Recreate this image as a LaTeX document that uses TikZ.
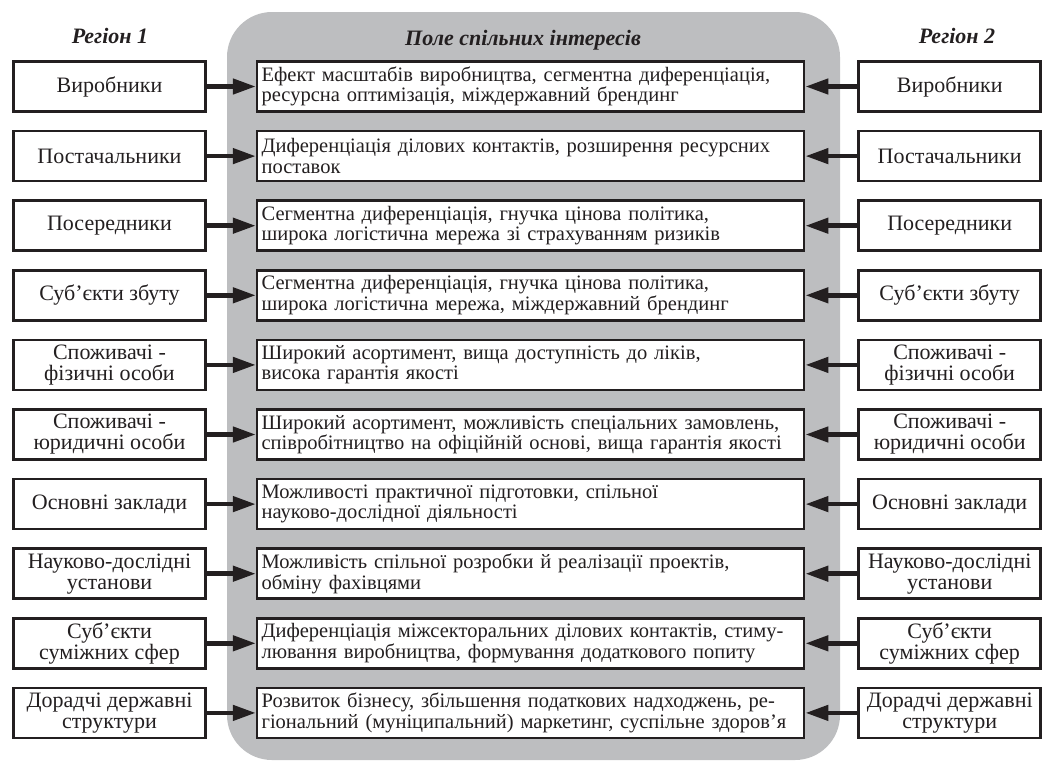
\documentclass[tikz,border=0pt]{standalone}
\usepackage{fontspec}
\setmainfont{Liberation Serif}
\usepackage{tikz}
\usetikzlibrary{arrows.meta, positioning}
\definecolor{panelgray}{RGB}{189, 190, 192}
\definecolor{inkdark}{RGB}{35, 31, 32}

\begin{document}
\begin{tikzpicture}[
        x=1pt, y=1pt,
        node distance=17pt and 49pt,
        sidebox/.style={rectangle, draw=inkdark, line width=2.6pt, fill=white, text=inkdark, font=\fontsize{22}{21}\selectfont, minimum width=192pt, minimum height=50pt, inner sep=2pt, align=center},
        midbox/.style={rectangle, draw=inkdark, line width=2.6pt, fill=white, text=inkdark, font=\fontsize{20.5}{20.5}\selectfont, minimum width=547pt, minimum height=50pt, inner xsep=4pt, inner ysep=2pt, text width=538pt, align=left},
        heading/.style={font=\fontsize{22}{22}\selectfont\bfseries\itshape, text=inkdark, anchor=base},
        arrow/.style={-{Triangle[length=23pt, width=15pt]}, line width=4.5pt, inkdark}
    ]
        \useasboundingbox (0,0) rectangle (1044,-764);
        % Shared field
        \fill[panelgray, rounded corners=45pt] (227,-12) rectangle (840,-760);

        % Headings
        \node[heading] (h1) at (110,-43) {Регіон 1};
        \node[heading] (h2) at (523,-45) {Поле спільних інтересів};
        \node[heading] (h3) at (957,-43) {Регіон 2};

        % Region 1
        \node[sidebox] (l1) at (109.5,-86.5) {Виробники};
        \node[sidebox, below=of l1] (l2) {Постачальники};
        \node[sidebox, below=of l2] (l3) {Посередники};
        \node[sidebox, below=of l3] (l4) {Суб’єкти збуту};
        \node[sidebox, below=of l4] (l5) {Споживачі -\\фізичні особи};
        \node[sidebox, below=of l5] (l6) {Споживачі -\\юридичні особи};
        \node[sidebox, below=of l6] (l7) {Основні заклади};
        \node[sidebox, below=of l7] (l8) {Науково-дослідні\\установи};
        \node[sidebox, below=of l8] (l9) {Суб’єкти\\суміжних сфер};
        \node[sidebox, below=of l9] (l10) {Дорадчі державні\\структури};

        % Shared interests
        \node[midbox, right=of l1] (m1) {Ефект масштабів виробництва, сегментна диференціація,\\ресурсна оптимізація, міждержавний брендинг};
        \node[midbox, right=of l2] (m2) {Диференціація ділових контактів, розширення ресурсних\\поставок};
        \node[midbox, right=of l3] (m3) {Сегментна диференціація, гнучка цінова політика,\\широка логістична мережа зі страхуванням ризиків};
        \node[midbox, right=of l4] (m4) {Сегментна диференціація, гнучка цінова політика,\\широка логістична мережа, міждержавний брендинг};
        \node[midbox, right=of l5] (m5) {Широкий асортимент, вища доступність до ліків,\\висока гарантія якості};
        \node[midbox, right=of l6] (m6) {Широкий асортимент, можливість спеціальних замовлень,\\співробітництво на офіційній основі, вища гарантія якості};
        \node[midbox, right=of l7] (m7) {Можливості практичної підготовки, спільної\\науково-дослідної діяльності};
        \node[midbox, right=of l8] (m8) {Можливість спільної розробки й реалізації проектів,\\обміну фахівцями};
        \node[midbox, right=of l9] (m9) {Диференціація міжсекторальних ділових контактів, стиму-\\лювання виробництва, формування додаткового попиту};
        \node[midbox, right=of l10] (m10) {Розвиток бізнесу, збільшення податкових надходжень, ре-\\гіональний (муніципальний) маркетинг, суспільне здоров’я};

        % Region 2
        \node[sidebox, minimum width=182pt, right=52pt of m1] (r1) {Виробники};
        \node[sidebox, minimum width=182pt, right=52pt of m2] (r2) {Постачальники};
        \node[sidebox, minimum width=182pt, right=52pt of m3] (r3) {Посередники};
        \node[sidebox, minimum width=182pt, right=52pt of m4] (r4) {Суб’єкти збуту};
        \node[sidebox, minimum width=182pt, right=52pt of m5] (r5) {Споживачі -\\фізичні особи};
        \node[sidebox, minimum width=182pt, right=52pt of m6] (r6) {Споживачі -\\юридичні особи};
        \node[sidebox, minimum width=182pt, right=52pt of m7] (r7) {Основні заклади};
        \node[sidebox, minimum width=182pt, right=52pt of m8] (r8) {Науково-дослідні\\установи};
        \node[sidebox, minimum width=182pt, right=52pt of m9] (r9) {Суб’єкти\\суміжних сфер};
        \node[sidebox, minimum width=182pt, right=52pt of m10] (r10) {Дорадчі державні\\структури};

        % Arrows
        \draw[arrow] (l1) -- (m1);
        \draw[arrow] (l2) -- (m2);
        \draw[arrow] (l3) -- (m3);
        \draw[arrow] (l4) -- (m4);
        \draw[arrow] (l5) -- (m5);
        \draw[arrow] (l6) -- (m6);
        \draw[arrow] (l7) -- (m7);
        \draw[arrow] (l8) -- (m8);
        \draw[arrow] (l9) -- (m9);
        \draw[arrow] (l10) -- (m10);
        \draw[arrow] (r1) -- (m1);
        \draw[arrow] (r2) -- (m2);
        \draw[arrow] (r3) -- (m3);
        \draw[arrow] (r4) -- (m4);
        \draw[arrow] (r5) -- (m5);
        \draw[arrow] (r6) -- (m6);
        \draw[arrow] (r7) -- (m7);
        \draw[arrow] (r8) -- (m8);
        \draw[arrow] (r9) -- (m9);
        \draw[arrow] (r10) -- (m10);
    \end{tikzpicture}
\end{document}
